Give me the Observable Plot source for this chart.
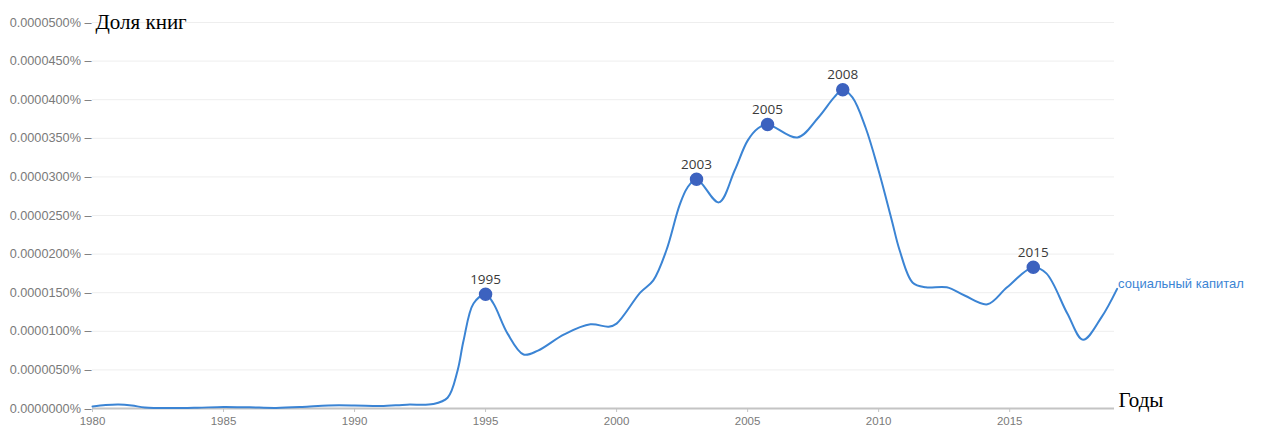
<!DOCTYPE html>
<html>
<head>
<meta charset="utf-8">
<script src="https://cdn.jsdelivr.net/npm/d3@7"></script>
<script src="https://cdn.jsdelivr.net/npm/@observablehq/plot@0.6"></script>
<style>
  html, body { margin: 0; padding: 0; background: #fff; }
  #chart svg { display: block; }
</style>
</head>
<body>
<div id="chart"></div>
<script>
// Curve samples (year, share of books in %)
const years = [1980, 1980.5, 1981, 1981.5, 1982, 1983, 1984, 1985, 1986, 1987, 1988, 1989, 1990, 1991, 1992, 1993, 1993.55, 1993.93, 1994.16, 1994.54, 1995, 1995.3, 1995.84, 1996.45, 1997, 1998, 1999, 1999.7, 2000.0, 2000.9, 2001.4, 2001.9, 2002.4, 2002.7, 2003.05, 2003.9, 2004.5, 2005.0, 2005.4, 2005.76, 2006.9, 2007.7, 2008.3, 2008.63, 2009.0, 2009.5, 2010.0, 2010.5, 2010.8, 2011.3, 2011.8, 2012.6, 2013.3, 2014.15, 2014.9, 2015.9, 2016.4, 2017.2, 2017.8, 2018.5, 2019.1];
const shares = [0.26, 0.45, 0.52, 0.39, 0.13, 0.05, 0.1, 0.2, 0.15, 0.08, 0.2, 0.4, 0.4, 0.32, 0.5, 0.58, 1.4, 4.9, 8.8, 13.6, 14.8, 13.6, 9.7, 7.0, 7.5, 9.6, 10.9, 10.6, 11.0, 15.0, 16.6, 20.5, 26.3, 28.6, 29.7, 26.7, 30.8, 34.7, 36.3, 36.8, 35.1, 37.7, 40.3, 41.3, 40.3, 36.4, 30.8, 24.4, 20.5, 16.3, 15.7, 15.7, 14.6, 13.5, 15.7, 18.3, 17.5, 12.3, 8.9, 11.8, 15.5].map(v => v * 1e-6);

// Highlighted points
const markerLabels = ["1995", "2003", "2005", "2008", "2015"];
const markerYears = [1995, 2003.05, 2005.76, 2008.63, 2015.9];
const markerShares = [14.8, 29.7, 36.8, 41.3, 18.3].map(v => v * 1e-6);

const xTicks = [1980, 1985, 1990, 1995, 2000, 2005, 2010, 2015];
const yTicks = [0, 5, 10, 15, 20, 25, 30, 35, 40, 45, 50].map(v => v * 1e-6);

const seriesName = "социальный капитал";
const yTitle = "Доля книг";
const xTitle = "Годы";

const line = years.map((y, i) => ({year: y, share: shares[i]}));
const markers = markerLabels.map((l, i) => ({label: l, year: markerYears[i], share: markerShares[i]}));
const last = line[line.length - 1];

const fmt = d => d.toFixed(7) + "%";

const chart = Plot.plot({
  width: 1266,
  height: 426,
  marginLeft: 92,
  marginRight: 152,
  marginTop: 22,
  marginBottom: 18,
  style: {fontFamily: "'Liberation Sans', Arial, sans-serif", fontSize: "11px", background: "#fff"},
  x: {domain: [1980, 2019], ticks: xTicks, tickFormat: d => String(d), label: null},
  y: {domain: [0, 0.00005], ticks: yTicks, label: null},
  marks: [
    Plot.gridY(yTicks, {stroke: "#eeeeee", strokeOpacity: 1, strokeWidth: 1}),
    Plot.axisY({ticks: yTicks, tickFormat: d => fmt(d) + " \u2013", tickSize: 0, tickPadding: 1, fill: "#7a7a7a", fontSize: 12.7}),
    Plot.ruleY([0], {stroke: "#c4c4c4", strokeWidth: 2}),
    Plot.axisX({ticks: xTicks, tickFormat: d => String(d), tickSize: 4, tickPadding: 4, stroke: "#c4c4c4", fill: "#7a7a7a", fontSize: 11.5}),
    Plot.line(line, {x: "year", y: "share", curve: "catmull-rom", stroke: "#3b84d4", strokeWidth: 2}),
    Plot.dot(markers, {x: "year", y: "share", r: 6, fill: "#3c62bf", stroke: "#3c62bf"}),
    Plot.text(markers, {x: "year", y: "share", text: "label", dy: -15, fill: "#3a3a3a", fontSize: 13.5, fontFamily: "'Open Sans', sans-serif"}),
    Plot.text([last], {x: "year", y: "share", text: () => seriesName, textAnchor: "start", dx: 1, dy: -5, fill: "#3b84d4", fontSize: 13, fontFamily: "'Liberation Sans', Arial, sans-serif"}),
    Plot.text([yTitle], {frameAnchor: "top-left", text: d => d, textAnchor: "start", dx: 3, dy: 0, lineAnchor: "middle", fill: "#000", fontSize: 21, fontFamily: "'Liberation Serif', 'Times New Roman', serif"}),
    Plot.text([xTitle], {frameAnchor: "bottom-right", text: d => d, textAnchor: "start", dx: 4, dy: -8, lineAnchor: "middle", fill: "#000", fontSize: 21, fontFamily: "'Liberation Serif', 'Times New Roman', serif"})
  ]
});
document.getElementById("chart").appendChild(chart);
</script>
</body>
</html>
